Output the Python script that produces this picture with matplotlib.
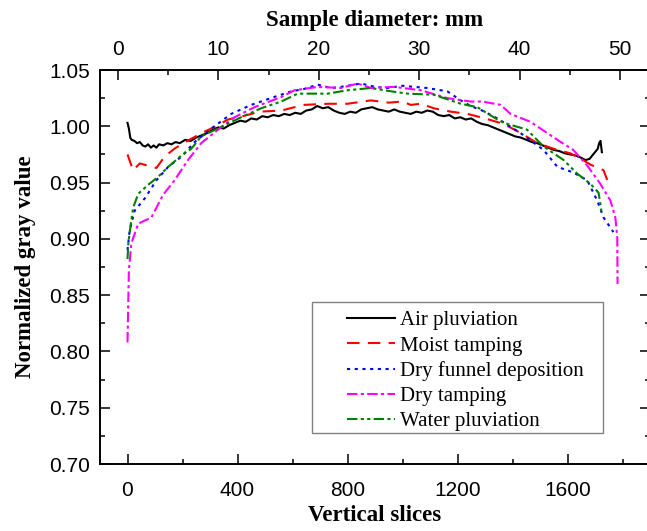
import numpy as np
import matplotlib
matplotlib.use('Agg')
import matplotlib.pyplot as plt
from matplotlib.patches import Rectangle

# Data (x = vertical slice index, y = normalized gray value)
air_x = [0, 5, 10, 15, 25, 35, 45, 55, 65, 75, 85, 95, 105, 115, 130, 145, 160, 175, 190,
         210, 230, 250, 270, 290, 310, 330, 350, 370, 390, 410, 430, 450, 470, 490, 510,
         530, 550, 570, 590, 610, 630, 650, 670, 690, 710, 730, 750, 770, 790, 810, 830,
         850, 870, 890, 910, 930, 950, 970, 990, 1010, 1030, 1050, 1070, 1090, 1110, 1130,
         1150, 1170, 1190, 1210, 1230, 1250, 1270, 1290, 1310, 1330, 1350, 1370, 1390, 1410,
         1430, 1450, 1470, 1490, 1510, 1530, 1550, 1570, 1590, 1610, 1630, 1650, 1665, 1680,
         1690, 1700, 1710, 1715, 1720, 1725]
air_y = [1.003, 0.998, 0.990, 0.988, 0.987, 0.985, 0.986, 0.983, 0.982, 0.984, 0.981, 0.983,
         0.981, 0.984, 0.983, 0.985, 0.984, 0.986, 0.985, 0.988, 0.987, 0.990, 0.992, 0.994,
         0.997, 0.999, 0.998, 1.001, 1.003, 1.005, 1.004, 1.007, 1.006, 1.009, 1.008, 1.010,
         1.009, 1.011, 1.010, 1.012, 1.011, 1.014, 1.015, 1.018, 1.016, 1.017, 1.014, 1.012,
         1.011, 1.013, 1.012, 1.015, 1.016, 1.017, 1.015, 1.014, 1.013, 1.015, 1.013, 1.012,
         1.011, 1.013, 1.012, 1.014, 1.013, 1.010, 1.009, 1.010, 1.007, 1.008, 1.006, 1.007,
         1.004, 1.002, 1.001, 0.999, 0.997, 0.995, 0.993, 0.991, 0.990, 0.988, 0.986, 0.985,
         0.983, 0.981, 0.979, 0.978, 0.976, 0.975, 0.974, 0.972, 0.970, 0.971, 0.974, 0.977,
         0.980, 0.985, 0.987, 0.977]

moist_x = [0, 20, 45, 75, 105, 135, 170, 210, 270, 330, 365, 420, 480, 560, 640, 730, 800,
           885, 950, 1000, 1030, 1066, 1114, 1175, 1236, 1300, 1369, 1430, 1490, 1550, 1610,
           1650, 1683, 1731, 1745]
moist_y = [0.975, 0.961, 0.967, 0.965, 0.963, 0.973, 0.980, 0.986, 0.994, 1.001, 1.006, 1.009,
           1.013, 1.014, 1.019, 1.020, 1.020, 1.023, 1.021, 1.022, 1.019, 1.020, 1.016, 1.013,
           1.011, 1.007, 1.002, 0.994, 0.985, 0.980, 0.976, 0.971, 0.966, 0.961, 0.952]

funnel_x = [0, 8, 26, 63, 105, 148, 196, 244, 305, 377, 450, 533, 595, 640, 692, 740, 776,
            849, 900, 946, 1000, 1042, 1090, 1139, 1163, 1212, 1248, 1290, 1345, 1429, 1513,
            1563, 1621, 1672, 1708, 1731, 1767]
funnel_y = [0.890, 0.9075, 0.925, 0.936, 0.952, 0.964, 0.973, 0.986, 0.998, 1.011, 1.019,
            1.026, 1.031, 1.033, 1.037, 1.034, 1.035, 1.038, 1.035, 1.034, 1.036, 1.035, 1.034,
            1.032, 1.031, 1.023, 1.018, 1.014, 1.007, 0.994, 0.979, 0.964, 0.959, 0.952, 0.934,
            0.919, 0.906]

dry_x = [0, 5, 14, 39, 87, 129, 171, 220, 268, 329, 389, 462, 559, 607, 692, 776, 837, 885,
         970, 1066, 1163, 1248, 1290, 1357, 1393, 1465, 1563, 1621, 1672, 1719, 1756, 1774,
         1781, 1782]
dry_y = [0.808, 0.872, 0.896, 0.9135, 0.919, 0.939, 0.952, 0.970, 0.985, 0.997, 1.008, 1.017,
         1.026, 1.032, 1.035, 1.034, 1.038, 1.034, 1.035, 1.032, 1.025, 1.022, 1.022, 1.019,
         1.011, 1.004, 0.988, 0.979, 0.965, 0.949, 0.934, 0.919, 0.9015, 0.860]

water_x = [0, 3, 12, 21, 39, 75, 111, 148, 196, 232, 268, 341, 413, 486, 559, 619, 728, 800,
           885, 960, 1019, 1114, 1212, 1272, 1345, 1369, 1453, 1513, 1586, 1635, 1683, 1713,
           1725]
water_y = [0.882, 0.896, 0.9135, 0.928, 0.940, 0.948, 0.955, 0.964, 0.974, 0.980, 0.991,
           0.9995, 1.008, 1.016, 1.022, 1.029, 1.029, 1.032, 1.034, 1.031, 1.029, 1.028, 1.020,
           1.017, 1.006, 1.003, 0.997, 0.982, 0.970, 0.958, 0.949, 0.941, 0.922]

labels = ['Air pluviation', 'Moist tamping', 'Dry funnel deposition', 'Dry tamping',
          'Water pluviation']

fig = plt.figure(figsize=(6.47, 5.31), dpi=100)
ax = fig.add_axes([100/647, 67/531, 550/647, 394/531])

lw = 1.5
ax.plot(air_x, air_y, color='black', lw=lw, label=labels[0])
ax.plot(moist_x, moist_y, color='red', lw=lw, linestyle=(0, (6, 4)), label=labels[1])
ax.plot(funnel_x, funnel_y, color='blue', lw=lw, linestyle=(0, (1.5, 2.2)), label=labels[2])
ax.plot(dry_x, dry_y, color='magenta', lw=lw, linestyle=(0, (5, 1.6, 1.5, 1.6)), label=labels[3])
ax.plot(water_x, water_y, color='green', lw=lw,
        linestyle=(0, (5, 1.6, 1.5, 1.6, 1.5, 1.6)), label=labels[4])

ax.set_xlim(-100, 1900)
ax.set_ylim(0.70, 1.05)
ax.set_xticks([0, 400, 800, 1200, 1600])
ax.set_xticks(np.arange(200, 1900, 400), minor=True)
ax.set_yticks(np.arange(0.70, 1.051, 0.05))
ax.set_yticks(np.arange(0.725, 1.05, 0.05), minor=True)
ax.yaxis.set_major_formatter(matplotlib.ticker.FormatStrFormatter('%.2f'))

tickfont = 'Liberation Sans'
ax.tick_params(which='both', direction='in', right=True, width=1.1, labelsize=15)
ax.tick_params(which='major', length=7)
ax.tick_params(which='minor', length=3.5)
ax.tick_params(axis='x', pad=12)
ax.tick_params(axis='y', pad=7)
for lab in ax.get_xticklabels() + ax.get_yticklabels():
    lab.set_family(tickfont)
for sp in ax.spines.values():
    sp.set_linewidth(1.2)

labfont = dict(family='Liberation Serif', weight='bold', size=16.5)
ax.set_xlabel('Vertical slices', fontdict=labfont, labelpad=4)
ax.set_ylabel('Normalized gray value', fontdict=labfont, labelpad=10)

ax2 = ax.twiny()
ax2.set_xlim(-1.8, 53)
ax2.set_xticks([0, 10, 20, 30, 40, 50])
ax2.set_xticks([5, 15, 25, 35, 45], minor=True)
ax2.tick_params(which='both', direction='in', width=1.1, labelsize=15, pad=8)
ax2.tick_params(which='major', length=7)
ax2.tick_params(which='minor', length=3.5)
for lab in ax2.get_xticklabels():
    lab.set_family(tickfont)
ax2.set_xlabel('Sample diameter: mm', fontdict=labfont, labelpad=10)
for sp in ax2.spines.values():
    sp.set_linewidth(1.2)

# legend frame drawn separately so the padding matches the reference
ax.add_patch(Rectangle((0.3855, 0.0787), 0.529, 0.3325, transform=ax.transAxes,
                       facecolor='white', edgecolor='#808080', lw=1.0, zorder=4))
leg = ax.legend(loc='upper left', bbox_to_anchor=(0.449, 0.389), frameon=False,
                prop={'family': 'Liberation Serif', 'size': 15}, handlelength=2.3,
                handletextpad=0.25, labelspacing=0.27, borderpad=0, borderaxespad=0)
leg.set_zorder(5)

fig.savefig('out.png', dpi=100)
